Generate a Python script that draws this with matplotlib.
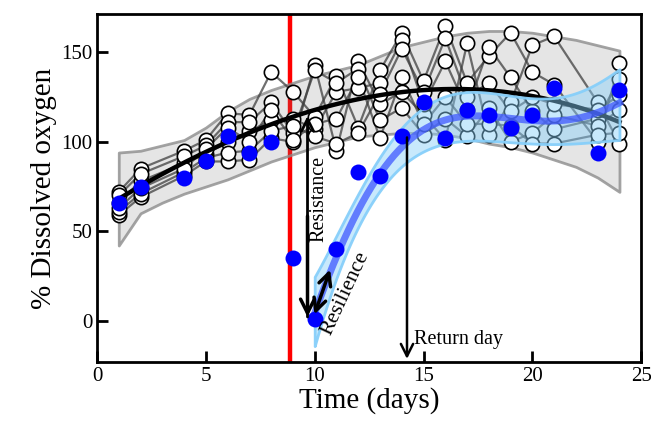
import numpy as np
import matplotlib
matplotlib.use("Agg")
import matplotlib.pyplot as plt

plt.rcParams['font.family'] = 'serif'
plt.rcParams['font.serif'] = ['Liberation Serif', 'DejaVu Serif']

# measurement days
days = [1, 2, 4, 5, 6, 7, 8, 9, 10, 11, 12, 13, 14, 15, 16, 17, 18, 19, 20, 21, 23, 24]

# treatment (blue dots)
treatment = [66, 75, 80, 89, 103, 94, 100, 35, 1, 40, 83, 81, 103, 122, 102, 118, 115, 108, 115, 130, 94, 129]

# control replicates (white circles), one row per day, same replicate order
control = [
    [72, 59, 66, 70, 61, 63],
    [85, 69, 78, 82, 71, 74],
    [95, 81, 88, 92, 83, 85],
    [101, 89, 93, 98, 91, 96],
    [116, 89, 100, 111, 94, 108],
    [115, 90, 106, 111, 95, 100],
    [139, 102, 112, 122, 106, 118],
    [128, 100, 113, 105, 109, 101],
    [114, 143, 107, 140, 103, 110],
    [137, 95, 128, 133, 99, 113],
    [108, 145, 130, 141, 105, 136],
    [140, 121, 133, 112, 127, 102],
    [161, 128, 157, 119, 152, 136],
    [134, 115, 121, 104, 128, 110],
    [165, 101, 145, 113, 158, 125],
    [133, 155, 118, 103, 125, 110],
    [148, 104, 153, 119, 133, 110],
    [161, 122, 136, 100, 117, 109],
    [139, 154, 117, 105, 125, 99],
    [132, 159, 107, 115, 121, 99],
    [100, 122, 113, 109, 118, 104],
    [144, 99, 135, 118, 126, 105],
]

# control fit (black) and its band (gray)
ctrl_fit_days = [1, 2, 3, 4, 5, 6, 7, 8, 9, 10, 11, 12, 14, 16, 18, 20, 22, 24]
ctrl_fit = [68, 76, 83, 88, 92, 99, 105, 110, 115, 119, 122, 124, 127, 129, 128, 126, 120, 111]
band_days = list(range(1, 25))
band_hi = [94, 95, 98, 101, 108, 117, 124, 129, 133, 137, 140, 143, 148, 153, 156, 159, 161, 162, 162, 161, 159, 157, 154, 151]
band_lo = [42, 60, 66, 71, 75, 79, 84, 89, 93, 97, 100, 103, 104, 105, 105, 104, 102, 99, 97, 94, 90, 86, 80, 72]

# treatment recovery fit (blue) and band
rec_days = list(range(10, 25))
rec_fit = [4, 36, 62, 81, 97, 108, 112, 114, 114, 113, 112, 112, 113, 116, 122]
rec_hi = [25, 46, 72, 91, 108, 120, 125, 127, 127, 126, 125, 125, 127, 132, 141]
rec_lo = [-15, 26, 51, 71, 87, 96, 99, 100, 100, 100, 99, 99, 99, 100, 101]

fig = plt.figure(figsize=(6.51, 4.29), dpi=100)
ax = fig.add_axes([0.149, 0.156, 0.836, 0.811])

# red disturbance line
ax.axvline(8.87, color='red', lw=3.2, zorder=1)

# gray band + control fit
ax.fill_between(band_days, band_lo, band_hi, facecolor=(0.5, 0.5, 0.5, 0.2),
                edgecolor=(0.55, 0.55, 0.55, 0.8), lw=2, zorder=1.5)
ctrl = np.array(control)
for r in range(ctrl.shape[1]):
    ax.plot(days, ctrl[:, r], color=(0.25, 0.25, 0.25), alpha=0.75, lw=1.6, zorder=2)
for r in range(ctrl.shape[1]):
    ax.plot(days, ctrl[:, r], 'o', ms=10.3, mfc='white', mec='black', mew=1.2, zorder=3)

xs = np.linspace(1, 24, 200)
c = np.polyfit(ctrl_fit_days, ctrl_fit, 3)
ax.plot(xs, np.polyval(c, xs), color='black', lw=3.2, zorder=4)

# blue band + recovery fit (smoothed through the read values)
xr = np.linspace(10, 24, 200)
hi_s = np.polyval(np.polyfit(rec_days, rec_hi, 5), xr)
lo_s = np.polyval(np.polyfit(rec_days, rec_lo, 5), xr)
ax.fill_between(xr, lo_s, hi_s, facecolor=(0.53, 0.81, 0.98, 0.45),
                edgecolor=(0.53, 0.81, 0.98, 0.95), lw=2, zorder=5)
cr = np.polyfit(rec_days, rec_fit, 5)
ax.plot(xr, np.polyval(cr, xr), color=(0.25, 0.35, 1.0), alpha=0.75, lw=5, zorder=6)

ax.plot(days, treatment, 'o', ms=11.5, color='blue', mec='none', zorder=7)

# annotations
ax.annotate('', xy=(9.67, 116), xytext=(9.67, 0.5),
            arrowprops=dict(arrowstyle='->', lw=2, color='black', mutation_scale=22), zorder=8)
ax.annotate('', xy=(9.67, 0.5), xytext=(9.67, 60),
            arrowprops=dict(arrowstyle='->', lw=2.5, color='black', mutation_scale=25), zorder=8)
ax.text(10.18, 68, 'Resistance', rotation=90, ha='center', va='center', fontsize=14.5, zorder=9)
ax.annotate('', xy=(10.75, 30), xytext=(9.95, 2),
            arrowprops=dict(arrowstyle='<->', lw=2.5, color='black', mutation_scale=22), zorder=8)
ax.text(11.4, 15.5, 'Resilience', rotation=65, ha='center', va='center', fontsize=15.5, zorder=9)
ax.annotate('', xy=(14.24, -23), xytext=(14.24, 104),
            arrowprops=dict(arrowstyle='->', lw=1.8, color='black', mutation_scale=22), zorder=8)
ax.text(14.55, -10.5, 'Return day', ha='left', va='center', fontsize=14.5, zorder=9)

ax.set_xlim(0, 25)
ax.set_ylim(-23.2, 171.4)
ax.set_xticks([0, 5, 10, 15, 20, 25])
ax.set_yticks([0, 50, 100, 150])
ax.tick_params(direction='in', length=8, width=2, labelsize=15)
for s in ax.spines.values():
    s.set_linewidth(2)
ax.set_xlabel('Time (days)', fontsize=21, labelpad=1)
ax.set_ylabel('% Dissolved oxygen', fontsize=21, labelpad=3)

fig.savefig('out.png', dpi=100)
